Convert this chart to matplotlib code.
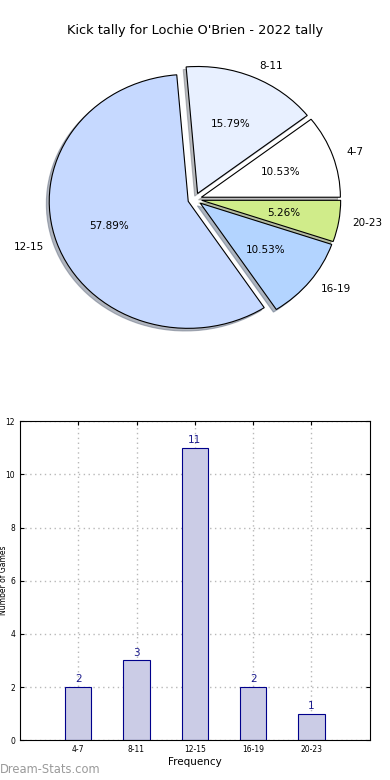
import matplotlib

matplotlib.use('Agg')

import matplotlib.pyplot as plt
import numpy as np

# kick ranges and how many games fell in each
categories = ['4-7', '8-11', '12-15', '16-19', '20-23']
counts = [2, 3, 11, 2, 1]
pie_colors = ['#ffffff', '#e8f0ff', '#c6d9ff', '#b3d4ff', '#d0ec8a']

title = "Kick tally for Lochie O'Brien - 2022 tally"
y_label = 'Number of Games'
x_label = 'Frequency'
y_ticks = [0, 2, 4, 6, 8, 10, 12]

fig = plt.figure(figsize=(3.9, 7.8), dpi=100)
fig.text(0.5, 0.961, title, ha='center', va='center', fontsize=9.3)

# pie (not forced circular, like the old matplotlib output)
ax0 = fig.add_axes([0.054, 0.541, 0.891, 0.407])
wedges, texts, autotexts = ax0.pie(counts, labels=categories, colors=pie_colors,
                                   explode=[0.05] * len(counts),
                                   shadow={'ox': -0.015, 'oy': -0.015, 'shade': 0.5},
                                   autopct='%1.2f%%', startangle=0,
                                   wedgeprops={'edgecolor': 'black', 'linewidth': 0.8},
                                   textprops={'fontsize': 7.5})
ax0.set_aspect('auto')
ax0.set_xlim(-1.25, 1.25)
ax0.set_ylim(-1.25, 1.25)

# bar chart
ax1 = fig.add_axes([0.051, 0.051, 0.897, 0.409])
x = np.arange(len(categories))
bars = ax1.bar(x, counts, width=0.45, color='#cbcce6', edgecolor='#00008b', linewidth=0.8)
for xi, c in zip(x, counts):
    ax1.text(xi, c + 0.1, str(c), ha='center', va='bottom', fontsize=7.5, color='#1a1a8c')
ax1.set_xlim(-1, len(categories))
ax1.set_ylim(0, 12)
ax1.set_xticks(x)
ax1.set_xticklabels(categories)
ax1.set_yticks(y_ticks)
ax1.tick_params(labelsize=5.5, direction='in', top=True, right=True, length=3)
ax1.grid(True, linestyle=(0, (1, 2.5)), color='#b8b8b8', linewidth=1)
ax1.set_axisbelow(True)
ax1.set_xlabel(x_label, fontsize=7.5, labelpad=2)
ax1.set_ylabel(y_label, fontsize=5.5)
ax1.yaxis.set_label_coords(-0.034, 0.5)

fig.text(0.0, 0.013, 'Dream-Stats.com', fontsize=8.3, color='#9a9a9a',
         ha='left', va='center')

plt.savefig('out.png', dpi=100)
plt.close(fig)
